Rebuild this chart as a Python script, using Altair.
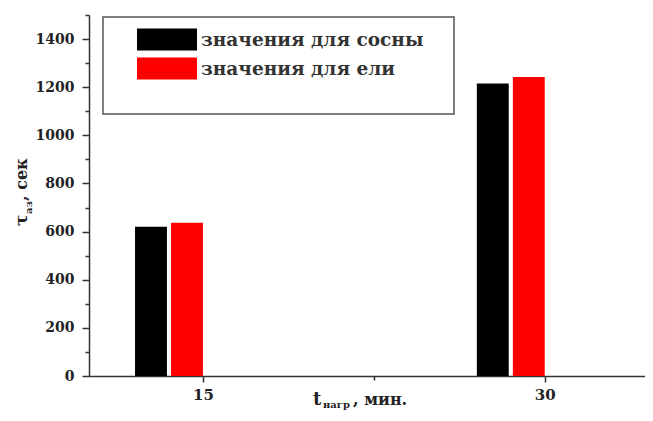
import altair as alt
import pandas as pd

# ---- data ----
times = [15, 30]
pine = [620, 1215]
spruce = [637, 1242]
series_names = ["значения для сосны", "значения для ели"]
series_colors = ["#000000", "#ff0000"]
y_ticks = list(range(0, 1501, 100))
x_ticks = [15, 22.5, 30]
x_title_main = "t"
x_title_sub = "нагр"
x_title_unit = ", мин."
y_title_main = "τ"
y_title_sub = "аз"
y_title_unit = ", сек"

# ---- style ----
BAR_W = 1.4
GAP = 0.18
FONT = "DejaVu Serif"
TXT = "#222222"

rows = []
for t, v in zip(times, pine):
    rows.append({"t": t, "value": v, "series": series_names[0],
                 "x0": t - 2 * BAR_W - GAP, "x1": t - BAR_W - GAP})
for t, v in zip(times, spruce):
    rows.append({"t": t, "value": v, "series": series_names[1],
                 "x0": t - BAR_W, "x1": t})
df = pd.DataFrame(rows)

one = alt.Data(values=[{}])

bars = alt.Chart(df).mark_bar().encode(
    x=alt.X("x0:Q",
            scale=alt.Scale(domain=[10, 34.4], nice=False, zero=False),
            axis=alt.Axis(values=x_ticks, format="d",
                          labelExpr="datum.value === 22.5 ? '' : datum.label",
                          tickSize={"condition": {"test": "datum.value === 22.5", "value": 4}, "value": 6},
                          labelPadding=5, labelFontSize=15, title=None)),
    x2="x1:Q",
    y=alt.Y("value:Q",
            scale=alt.Scale(domain=[0, 1500], nice=False),
            axis=alt.Axis(values=y_ticks, format="d",
                          labelExpr="datum.value % 200 === 0 ? datum.label : ''",
                          tickSize={"condition": {"test": "datum.value % 200 !== 0", "value": 4}, "value": 7},
                          labelPadding=8, labelFontSize=14, title=None)),
    y2=alt.datum(0),
    color=alt.Color("series:N",
                    scale=alt.Scale(domain=series_names, range=series_colors),
                    legend=alt.Legend(title=None, orient="none", legendX=48, legendY=13,
                                      symbolType="M-1,-0.37L1,-0.37L1,0.37L-1,0.37Z",
                                      symbolSize=3600, symbolStrokeWidth=0, symbolOpacity=1,
                                      clipHeight=23, rowPadding=6, labelOffset=4,
                                      labelFont=FONT, labelFontWeight="bold", labelFontSize=18.5,
                                      labelColor="#333333", labelLimit=500, padding=0)),
)

frame = alt.Chart(one).mark_rect(fillOpacity=0, stroke="#555555", strokeWidth=1.5).encode(
    x=alt.value(14), x2=alt.value(365), y=alt.value(2), y2=alt.value(99))


def txt(text, x, y, size, angle=0):
    return alt.Chart(one).mark_text(text=text, font=FONT, fontWeight="bold", fontSize=size,
                                    angle=angle, align="left", baseline="alphabetic",
                                    color=TXT).encode(x=alt.value(x), y=alt.value(y))


titles = [
    txt(x_title_main, 224, 390, 18),
    txt(x_title_sub, 234, 393, 10),
    txt(x_title_unit, 264, 390, 16),
    txt(y_title_main, -62, 211, 17, 270),
    txt(y_title_sub, -57, 199, 10, 270),
    txt(y_title_unit, -62, 186, 16, 270),
]

chart = alt.layer(frame, bars, *titles).properties(
    width=556, height=361,
    autosize=alt.AutoSizeParams(type="none"),
    padding={"left": 81, "top": 7, "right": 0, "bottom": 37},
).configure_view(stroke="transparent").configure_axis(
    grid=False, domainColor="#333333", domainWidth=1.5, tickColor="#333333", tickWidth=1.5,
    labelFont=FONT, labelFontWeight="bold", labelColor=TXT,
)

chart.save("out.html", embed_options={"renderer": "svg", "actions": False})
